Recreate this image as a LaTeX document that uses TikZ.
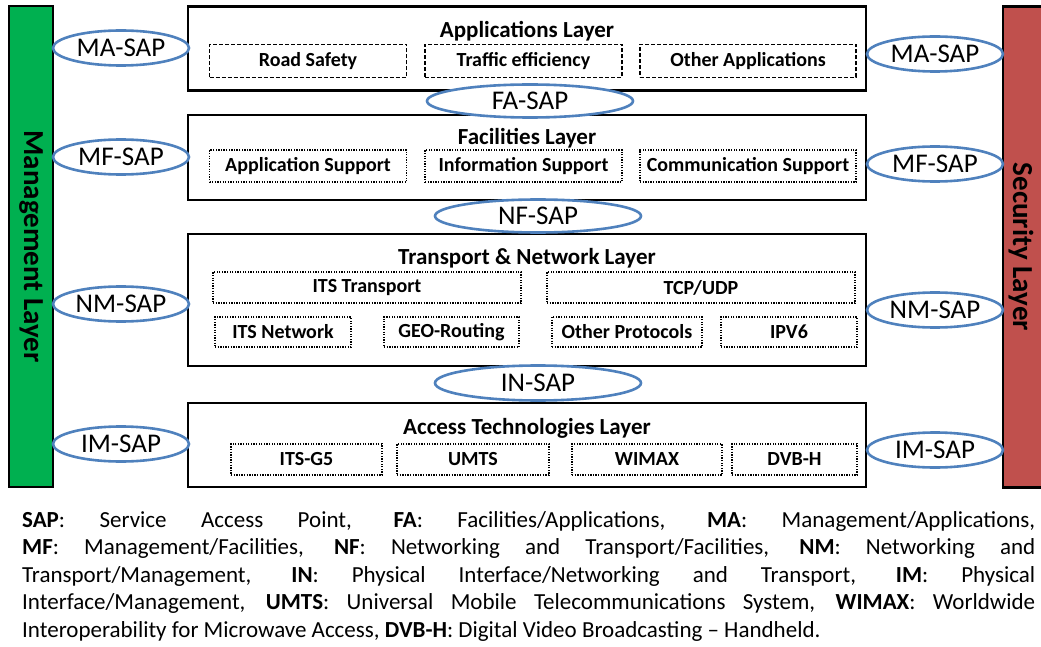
\documentclass[tikz,border=0pt]{standalone}
\usepackage{fontspec}
\setmainfont{Carlito}
\usetikzlibrary{shapes.geometric}
\definecolor{mgmtgreen}{HTML}{00B050}
\definecolor{secred}{HTML}{C0504D}
\definecolor{sapblue}{HTML}{4F81BD}
\tikzset{
  layerbox/.style={draw, line width=2.6pt, fill=white, minimum width=678pt, inner sep=0pt},
  layertitle/.style={anchor=base, font=\fontsize{23}{25}\selectfont\bfseries},
  subbox/.style={draw, line width=1.3pt, inner sep=0pt, font=\fontsize{20}{22}\selectfont\bfseries},
  appbox/.style={subbox, dash pattern=on 4pt off 2pt},
  dotbox/.style={subbox, dash pattern=on 1.3pt off 1.3pt},
  sidebar/.style={draw, line width=2.6pt, inner sep=0pt, minimum width=44pt, minimum height=481pt},
  sidetext/.style={rotate=-90, font=\fontsize{29}{31}\selectfont\bfseries},
  sap/.style={ellipse, draw=sapblue, line width=2.6pt, fill=white, inner sep=0pt,
    minimum width=136pt, minimum height=35pt, font=\fontsize{27}{29}\selectfont},
}
\begin{document}
\begin{tikzpicture}[x=1pt, y=-1pt]
  \useasboundingbox (0,0) rectangle (1041,647);

  % side layers
  \node[sidebar, fill=mgmtgreen] (mgmt) at (31,246.5) {};
  \node[sidetext] (mgmttext) at (mgmt.center) {Management Layer};
  \node[sidebar, fill=secred] (sec) at (1025,247) {};
  \node[sidetext] (sectext) at (1021,247) {Security Layer};

  % applications layer
  \node[layerbox, minimum height=84pt] (app) at (527,48.5) {};
  \node[layertitle] (apptitle) at (527,38) {Applications Layer};
  \node[appbox, minimum width=197pt, minimum height=33pt] (roadsafety) at (308,61) {Road Safety};
  \node[appbox, minimum width=197pt, minimum height=33pt] (traffic) at (523.5,61) {Traffic efficiency};
  \node[appbox, minimum width=216pt, minimum height=33pt] (otherapps) at (748,61) {Other Applications};

  % facilities layer
  \node[layerbox, minimum height=85pt] (fac) at (527,157.5) {};
  \node[layertitle] (factitle) at (527,145) {Facilities Layer};
  \node[dotbox, minimum width=197pt, minimum height=32pt] (appsupport) at (308,166) {Application Support};
  \node[dotbox, minimum width=197pt, minimum height=32pt] (infosupport) at (523.5,166) {Information Support};
  \node[dotbox, minimum width=216pt, minimum height=32pt] (commsupport) at (748,166) {Communication Support};

  % transport & network layer
  \node[layerbox, minimum height=132pt] (net) at (527,300) {};
  \node[layertitle] (nettitle) at (527,264) {Transport \& Network Layer};
  \node[dotbox, minimum width=308pt, minimum height=31pt] (itstransport) at (367,287.5) {ITS Transport};
  \node[dotbox, minimum width=308pt, minimum height=31pt] (tcpudp) at (701,287.5) {TCP/UDP};
  \node[dotbox, minimum width=136pt, minimum height=30pt] (itsnetwork) at (283,332) {ITS Network};
  \node[dotbox, minimum width=135pt, minimum height=30pt] (georouting) at (451.5,332) {GEO-Routing};
  \node[dotbox, minimum width=150pt, minimum height=30pt] (otherproto) at (627,332) {Other Protocols};
  \node[dotbox, minimum width=136pt, minimum height=30pt] (ipv6) at (789,332) {IPV6};

  % access technologies layer
  \node[layerbox, minimum height=84pt] (acc) at (527,445) {};
  \node[layertitle] (acctitle) at (527,434) {Access Technologies Layer};
  \node[dotbox, minimum width=151pt, minimum height=31pt] (itsg5) at (306.5,459.5) {ITS-G5};
  \node[dotbox, minimum width=152pt, minimum height=31pt] (umts) at (473,459.5) {UMTS};
  \node[dotbox, minimum width=150pt, minimum height=31pt] (wimax) at (647,459.5) {WIMAX};
  \node[dotbox, minimum width=125pt, minimum height=31pt] (dvbh) at (794.5,459.5) {DVB-H};

  % service access points
  \node[sap, minimum width=206pt, minimum height=33pt] (fasap) at (530,101) {FA-SAP};
  \node[sap, minimum width=206pt, minimum height=33pt] (nfsap) at (538,216) {NF-SAP};
  \node[sap, minimum width=206pt] (insap) at (538,383) {IN-SAP};
  \node[sap] (masapl) at (121,48) {MA-SAP};
  \node[sap] (mfsapl) at (121,157) {MF-SAP};
  \node[sap] (nmsapl) at (121,304) {NM-SAP};
  \node[sap] (imsapl) at (121,444) {IM-SAP};
  \node[sap] (masapr) at (935,54) {MA-SAP};
  \node[sap] (mfsapr) at (935,164) {MF-SAP};
  \node[sap] (nmsapr) at (935,310) {NM-SAP};
  \node[sap] (imsapr) at (935,450) {IM-SAP};

  % abbreviations
  \node[anchor=base west, inner sep=0pt, text width=1013pt, align=justify,
    font=\fontsize{23}{27.5}\selectfont] (legend) at (22,527) {%
    \textbf{SAP}: Service Access Point, \textbf{FA}: Facilities/Applications, \textbf{MA}: Management/Applications,\linebreak
    \textbf{MF}: Management/Facilities, \textbf{NF}: Networking and Transport/Facilities, \textbf{NM}: Networking and\linebreak
    Transport/Management, \textbf{IN}: Physical Interface/Networking and Transport, \textbf{IM}: Physical\linebreak
    Interface/Management, \textbf{UMTS}: Universal Mobile Telecommunications System, \textbf{WIMAX}: Worldwide\linebreak
    Interoperability for Microwave Access, \textbf{DVB-H}: Digital Video Broadcasting -- Handheld.};
\end{tikzpicture}
\end{document}
